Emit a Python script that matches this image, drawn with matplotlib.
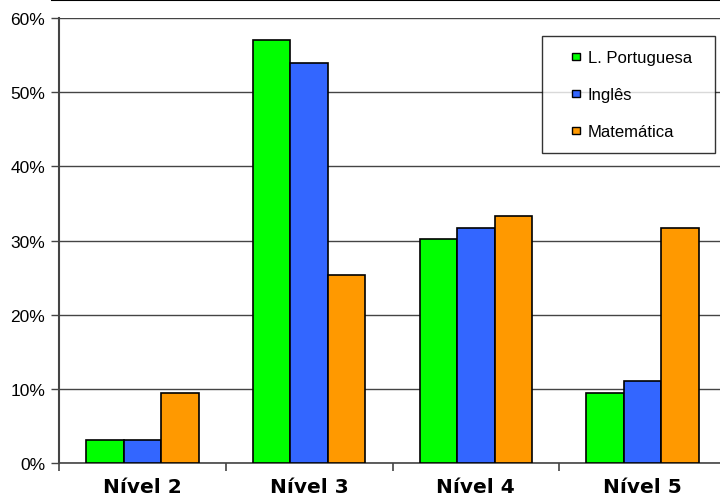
import matplotlib
matplotlib.use("Agg")
import matplotlib.pyplot as plt
import matplotlib.patches as mpatches
from matplotlib.legend_handler import HandlerPatch
import numpy as np
from matplotlib.lines import Line2D

categories = ["Nível 2", "Nível 3", "Nível 4", "Nível 5"]
series_names = ["L. Portuguesa", "Inglês", "Matemática"]
portugues = [3.1, 57.1, 30.2, 9.4]
ingles = [3.1, 54.0, 31.7, 11.0]
matematica = [9.5, 25.3, 33.3, 31.7]
yticks = [0, 10, 20, 30, 40, 50, 60]
ytick_labels = ["0%", "10%", "20%", "30%", "40%", "50%", "60%"]

colors = ["#00ff00", "#3366ff", "#ff9900"]

fig = plt.figure(figsize=(7.2, 5.02), dpi=100)
ax = fig.add_axes([59/720, (502-464)/502, 667/720, 445/502])

x = np.arange(len(categories))
w = 0.225
handles = []
for i, (vals, c, name) in enumerate(zip([portugues, ingles, matematica], colors, series_names)):
    ax.bar(x + (i - 1) * w, vals, width=w, color=c, edgecolor="black", linewidth=1.2,
           label=name, zorder=3)
    handles.append(mpatches.Patch(facecolor=c, edgecolor="black", linewidth=1.0, label=name))

ax.set_xlim(-0.5, 3.5)
ax.set_ylim(0, 60)
ax.set_yticks(yticks)
ax.set_yticklabels(ytick_labels, fontfamily="Liberation Sans", fontsize=12.5)
ax.yaxis.grid(True, color="#444444", linewidth=1.0, zorder=0)
ax.set_axisbelow(True)

ax.set_xticks(x)
ax.set_xticklabels(categories, fontfamily="DejaVu Sans", fontweight="bold", fontsize=14.5)
ax.set_xticks(np.arange(-0.5, 3.6, 1.0), minor=True)
ax.tick_params(axis="x", which="major", length=0, pad=10)
ax.tick_params(axis="x", which="minor", length=6, width=1.2, color="#444444", direction="out")
ax.tick_params(axis="y", length=6, width=1.0, color="#444444", pad=4)

for s in ["top", "right"]:
    ax.spines[s].set_visible(False)
ax.spines["left"].set_color("#444444")
ax.spines["left"].set_linewidth(1.5)
ax.spines["bottom"].set_color("#444444")
ax.spines["bottom"].set_linewidth(1.2)


def small_square(legend, orig_handle, xdescent, ydescent, width, height, fontsize):
    s = 0.45 * fontsize
    return mpatches.Rectangle((width - s - xdescent, -ydescent + (height - s) / 2), s, s)


handler = HandlerPatch(patch_func=small_square)
x0 = (542 - 59) / 667
wl = (715 - 542) / 667
y0 = (464 - 153) / 445
hl = (153 - 37) / 445
leg = ax.legend(handles=handles, loc="upper left", bbox_to_anchor=(x0, y0, wl, hl), mode="expand",
                prop={"family": "Liberation Sans", "size": 12},
                handler_map={h: handler for h in handles},
                frameon=True, fancybox=False, edgecolor="black",
                handlelength=1.4, handleheight=0.7, handletextpad=0.5,
                labelspacing=1.32, borderpad=0.85, borderaxespad=0)
leg.get_frame().set_linewidth(1.0)

fig.add_artist(Line2D([52/720, 1.0], [1 - 1/502, 1 - 1/502], color="black", linewidth=1.5,
                      transform=fig.transFigure))

fig.savefig("out.png", dpi=100)
